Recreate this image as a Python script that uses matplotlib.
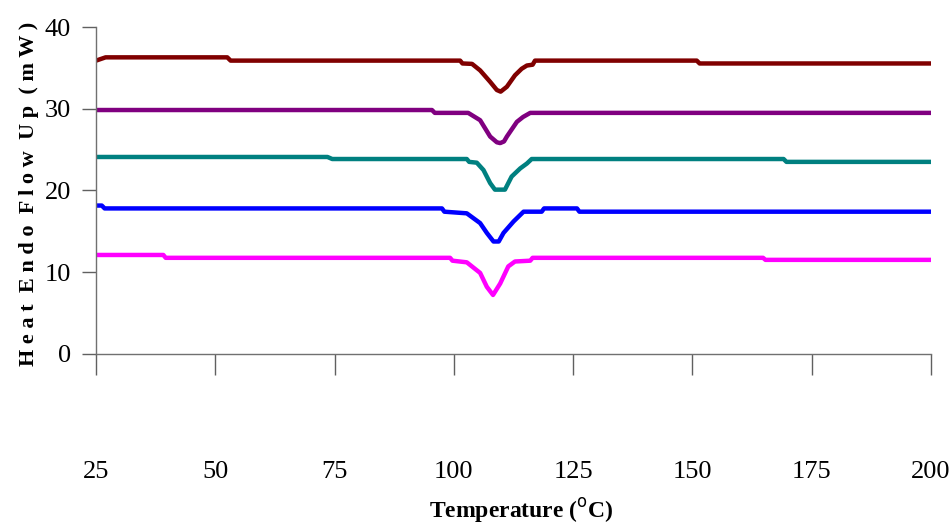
import matplotlib.pyplot as plt

# DSC curves (temperature in C, heat flow in mW)
brown_x = [25, 26.5, 27, 52.5, 53.2, 101.3, 101.8, 103.8, 105.5, 107.6, 109, 109.8,
           111.1, 112.8, 114.2, 115.3, 116.5, 117, 150.9, 151.5, 200]
brown_y = [35.9, 36.2, 36.3, 36.3, 35.9, 35.9, 35.55, 35.5, 34.7, 33.3, 32.3, 32.1,
           32.7, 34.1, 34.9, 35.3, 35.4, 35.9, 35.9, 35.55, 35.55]

purple_x = [25, 95.4, 96, 103, 105.5, 107.6, 109, 109.7, 110.5, 111.1, 113.2, 114.5, 116, 200]
purple_y = [29.85, 29.85, 29.5, 29.5, 28.6, 26.6, 25.9, 25.8, 26.0, 26.6, 28.4, 29.0, 29.5, 29.5]

teal_x = [25, 73.5, 74.5, 102.7, 103.2, 104.8, 106.2, 107.6, 108.6, 110.7, 112.1, 113.9,
          115.3, 116.3, 169.1, 169.7, 200]
teal_y = [24.1, 24.1, 23.85, 23.85, 23.5, 23.4, 22.5, 20.9, 20.1, 20.1, 21.7, 22.7,
          23.3, 23.85, 23.85, 23.5, 23.5]

blue_x = [25, 26.2, 26.8, 97.5, 98, 102.7, 105.5, 106.9, 108.3, 109.4, 110.4, 112.5,
          114.6, 118.4, 118.9, 125.8, 126.3, 200]
blue_y = [18.15, 18.15, 17.8, 17.8, 17.4, 17.2, 16.0, 14.8, 13.75, 13.75, 14.8, 16.2,
          17.4, 17.4, 17.8, 17.8, 17.4, 17.4]

magenta_x = [25, 39.1, 39.6, 99.2, 99.7, 102.7, 105.5, 106.9, 108.2, 109.7, 111.4, 112.8,
             116, 116.5, 164.8, 165.3, 200]
magenta_y = [12.1, 12.1, 11.75, 11.75, 11.4, 11.2, 9.9, 8.2, 7.2, 8.6, 10.7, 11.3,
             11.4, 11.75, 11.75, 11.5, 11.5]

xticks = [25, 50, 75, 100, 125, 150, 175, 200]
yticks = [0, 10, 20, 30, 40]

plt.rcParams['font.family'] = ['Liberation Serif', 'DejaVu Serif']

fig = plt.figure(figsize=(9.51, 5.32), dpi=100)
ax = fig.add_axes([0.101, 0.335, 0.878, 0.614])

lw = 3.2
ax.plot(brown_x, brown_y, color='#800000', lw=lw, solid_capstyle='round')
ax.plot(purple_x, purple_y, color='#800080', lw=lw, solid_capstyle='round')
ax.plot(teal_x, teal_y, color='#008080', lw=lw, solid_capstyle='round')
ax.plot(blue_x, blue_y, color='#0000FF', lw=lw, solid_capstyle='round')
ax.plot(magenta_x, magenta_y, color='#FF00FF', lw=lw, solid_capstyle='round')

ax.set_xlim(25, 200)
ax.set_ylim(0, 40)
ax.set_xticks(xticks)
ax.set_yticks(yticks)
ax.tick_params(axis='x', direction='out', length=15, width=1, color='#606060',
               pad=62, labelsize=19)
ax.tick_params(axis='y', direction='out', length=10, width=1, color='#606060',
               pad=8, labelsize=19)

for side in ['top', 'right']:
    ax.spines[side].set_visible(False)
for side in ['left', 'bottom']:
    ax.spines[side].set_color('#707070')
    ax.spines[side].set_linewidth(1)

fig.text(0.03, 0.636, 'H e a t  E n d o  F l o w  U p  ( m W )', rotation=90,
         ha='center', va='center', fontsize=16, fontweight='bold')
fig.text(0.548, 0.04, r'Temperature ($^{\mathrm{o}}$C)', ha='center', va='center',
         fontsize=17, fontweight='bold')

fig.savefig('out.png', dpi=100)
